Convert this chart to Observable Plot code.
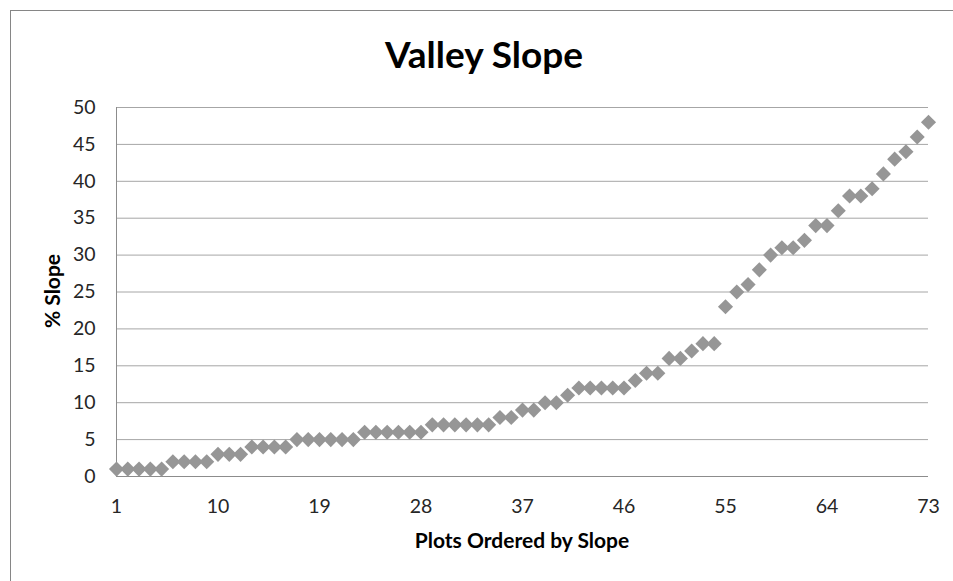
<!DOCTYPE html>
<html>
<head>
<meta charset="utf-8">
<script src="https://cdn.jsdelivr.net/npm/d3@7"></script>
<script src="https://cdn.jsdelivr.net/npm/@observablehq/plot@0.6"></script>
<style>
  html, body { margin: 0; padding: 0; background: #fff; }
  #wrap { position: relative; width: 953px; height: 581px; overflow: hidden; font-family: Lato, "Open Sans", sans-serif; }
  #frame { position: absolute; left: 10px; top: 10px; width: 960px; height: 600px; border-left: 1px solid #868686; border-top: 1px solid #868686; box-sizing: border-box; }
  #title { position: absolute; left: 10px; width: 948px; top: 31px; text-align: center; font-size: 37px; font-weight: bold; color: #000; line-height: normal; }
  #xtitle { position: absolute; left: 116px; width: 812px; top: 527px; text-align: center; font-size: 21px; font-weight: bold; color: #000; line-height: normal; }
  #ytitle { position: absolute; left: 51px; top: 291px; transform: translate(-50%, -50%) rotate(-90deg); font-size: 21px; font-weight: bold; color: #000; white-space: nowrap; line-height: normal; }
  #chart { position: absolute; left: 0; top: 0; }
</style>
</head>
<body>
<div id="wrap">
  <div id="frame"></div>
  <div id="chart"></div>
  <div id="title">Valley Slope</div>
  <div id="ytitle">% Slope</div>
  <div id="xtitle">Plots Ordered by Slope</div>
</div>
<script>
const plotIndex = d3.range(1, 74);
const slopeValues = [
  1, 1, 1, 1, 1, 2, 2, 2, 2, 3,
  3, 3, 4, 4, 4, 4, 5, 5, 5, 5,
  5, 5, 6, 6, 6, 6, 6, 6, 7, 7,
  7, 7, 7, 7, 8, 8, 9, 9, 10, 10,
  11, 12, 12, 12, 12, 12, 13, 14, 14, 16,
  16, 17, 18, 18, 23, 25, 26, 28, 30, 31,
  31, 32, 34, 34, 36, 38, 38, 39, 41, 43,
  44, 46, 48
];
const xTicks = [1, 10, 19, 28, 37, 46, 55, 64, 73];
const yTicks = [0, 5, 10, 15, 20, 25, 30, 35, 40, 45, 50];

const data = plotIndex.map((p, i) => ({plot: p, slope: slopeValues[i]}));

const chart = Plot.plot({
  width: 953,
  height: 581,
  marginLeft: 116,
  marginRight: 25,
  marginTop: 107,
  marginBottom: 105,
  style: { fontFamily: "Lato, 'Open Sans', sans-serif", fontSize: "19.5px", background: "transparent", color: "#262626" },
  x: { domain: [1, 73], ticks: xTicks, label: null },
  y: { domain: [0, 50], ticks: yTicks, label: null },
  marks: [
    Plot.gridY(yTicks, { stroke: "#a6a6a6", strokeOpacity: 1, strokeWidth: 1 }),
    Plot.axisY(yTicks, { tickSize: 0, tickPadding: 21, fontSize: 19.5, label: null }),
    Plot.axisX(xTicks, { tickSize: 0, tickPadding: 23, fontSize: 19.5, label: null }),
    Plot.ruleX([1], { stroke: "#8c8c8c" }),
    Plot.ruleY([0], { stroke: "#8c8c8c" }),
    Plot.dot(data, { x: "plot", y: "slope", symbol: "diamond2", r: 6.8, fill: "#969696", stroke: null })
  ]
});
document.getElementById("chart").appendChild(chart);
</script>
</body>
</html>
